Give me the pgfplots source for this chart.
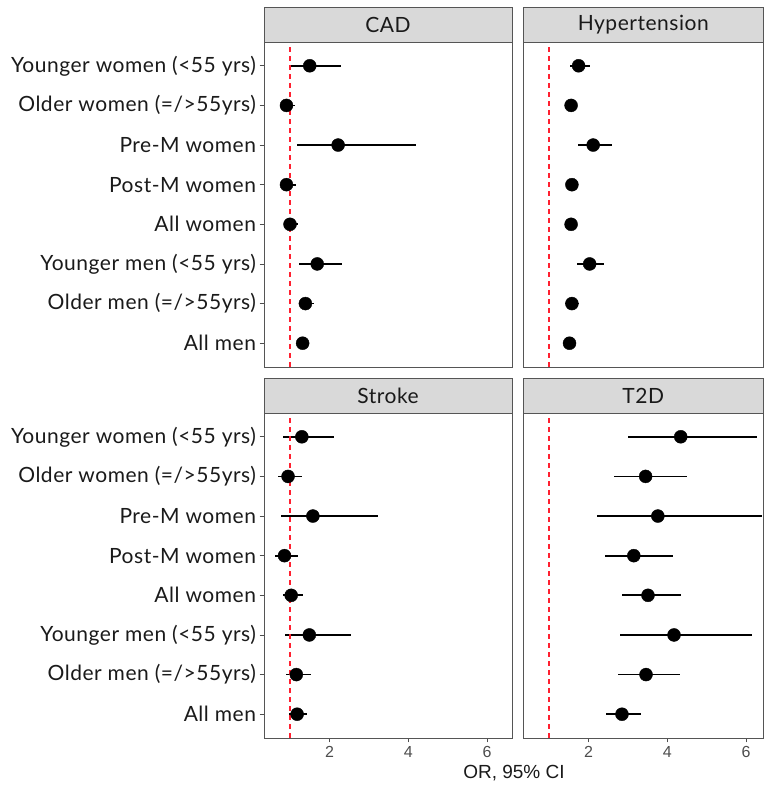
\documentclass[border=0pt]{standalone}
\usepackage{pgfplots}
\pgfplotsset{compat=1.18}
\usepackage{pgfplotstable}
\usepackage{fontspec}
\setmainfont{Lato}[LetterSpace=2.5]
\newfontfamily\arial{Liberation Sans}
\definecolor{strip}{HTML}{D9D9D9}
\definecolor{frame}{HTML}{555555}
\definecolor{tickgrey}{HTML}{4D4D4D}
\definecolor{txt}{HTML}{1A1A1A}
\definecolor{vred}{HTML}{FF2030}

\pgfplotstableread{
pos or lo hi
8 1.50 0.97 2.30
7 0.91 0.80 1.12
6 2.22 1.18 4.19
5 0.91 0.74 1.16
4 1.00 0.86 1.20
3 1.69 1.22 2.33
2 1.39 1.22 1.62
1 1.32 1.22 1.42
}\cad
\pgfplotstableread{
pos or lo hi
8 1.75 1.52 2.03
7 1.56 1.45 1.67
6 2.12 1.73 2.60
5 1.58 1.48 1.68
4 1.56 1.50 1.63
3 2.03 1.70 2.39
2 1.58 1.41 1.76
1 1.52 1.45 1.60
}\hyp
\pgfplotstableread{
pos or lo hi
8 1.30 0.81 2.11
7 0.95 0.69 1.31
6 1.58 0.78 3.22
5 0.86 0.63 1.21
4 1.03 0.81 1.32
3 1.49 0.87 2.55
2 1.16 0.89 1.52
1 1.18 0.97 1.42
}\stroke
\pgfplotstableread{
pos or lo hi
8 4.34 3.00 6.28
7 3.45 2.64 4.49
6 3.76 2.22 6.39
5 3.15 2.41 4.15
4 3.51 2.85 4.34
3 4.17 2.81 6.14
2 3.46 2.76 4.33
1 2.85 2.44 3.34
}\tdd

\pgfplotsset{
  panel/.style={
    scale only axis, height=325pt,
    xmin=0.34, ymin=0.4, ymax=8.6,
    axis line style={frame, line width=0.8pt},
    tick align=outside, major tick length=4.5pt,
    tick style={tickgrey, line width=0.8pt},
    xtick pos=bottom, ytick pos=left,
    /pgf/number format/assume math mode=true,
    xtick={2,4,6}, ytick={1,...,8},
    x tick label style={font=\arial\fontsize{16}{18}\selectfont, text=tickgrey},
    y tick label style={font=\fontsize{21}{25}\selectfont, text=txt},
    yticklabels={{All men},{Older men (=/>55yrs)},{Younger men (<55 yrs)},{All women},{Post-M women},{Pre-M women},{Older women (=/>55yrs)},{Younger women (<55 yrs)}},
  },
  leftp/.style={panel, width=248pt, xmax=6.63},
  rightp/.style={panel, width=240.5pt, xmax=6.44, ytick=\empty},
  top/.style={xtick=\empty},
}
\newcommand{\forest}[1]{%
  \addplot[only marks, mark=*, mark size=6.5pt, black,
    error bars/.cd, x dir=both, x explicit, error mark=none,
    error bar style={line width=1.8pt, black}]
    table[x=or, y=pos, x error plus expr=\thisrow{hi}-\thisrow{or},
          x error minus expr=\thisrow{or}-\thisrow{lo}] {#1};
  \addplot[vred, line width=1.3pt, dash pattern=on 5pt off 4pt] coordinates {(1,0.4) (1,8.6)};
}
\newcommand{\strip}[2]{%
  \draw[frame, fill=strip, line width=0.8pt] (#1.north west) rectangle ([yshift=35pt]#1.north east);
  \node[text=txt, font=\fontsize{21}{25}\selectfont] at ([yshift=17.5pt]#1.north) {#2};
}

\begin{document}
\begin{tikzpicture}
\useasboundingbox (0,0) rectangle (764pt,786pt);
\begin{axis}[leftp, top, name=cad, at={(264pt,419pt)}, anchor=south west]
\forest{\cad}
\end{axis}
\begin{axis}[rightp, top, name=hyp, at={(523pt,419pt)}, anchor=south west]
\forest{\hyp}
\end{axis}
\begin{axis}[leftp, name=str, at={(264pt,48pt)}, anchor=south west]
\forest{\stroke}
\end{axis}
\begin{axis}[rightp, name=tdd, at={(523pt,48pt)}, anchor=south west]
\forest{\tdd}
\end{axis}
\strip{cad}{CAD}
\strip{hyp}{Hypertension}
\strip{str}{Stroke}
\strip{tdd}{T2D}
\node[font=\arial\fontsize{19}{22}\selectfont, text=txt] at (514pt,13pt) {OR, 95\% CI};
\end{tikzpicture}
\end{document}
